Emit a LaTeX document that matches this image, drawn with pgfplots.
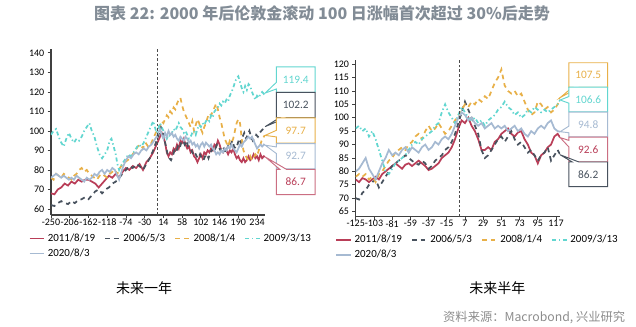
\documentclass[border=0pt]{standalone}
\usepackage{pgfplots}
\pgfplotsset{compat=1.18}
\usepackage{fontspec}
\setmainfont{Carlito}
\newfontfamily\cjk{Noto Sans CJK SC}
\usetikzlibrary{shapes.callouts}
\definecolor{cRed}{RGB}{185,62,88}
\definecolor{cDark}{RGB}{72,82,94}
\definecolor{cOrange}{RGB}{232,176,72}
\definecolor{cCyan}{RGB}{98,214,208}
\definecolor{cBlue}{RGB}{166,186,210}
\definecolor{cTitle}{RGB}{130,140,150}
\definecolor{cSrc}{RGB}{140,140,140}
\tikzset{
  box/.style={rectangle callout, fill=white, line width=0.7pt, inner sep=0pt,
    minimum width=29pt, callout pointer width=5pt, font=\fontsize{8.5}{9}\selectfont},
}
\pgfplotsset{
  base/.style={scale only axis, axis x line*=bottom, axis y line*=left,
    axis line style={black!75, line width=0.8pt, -},
    tick align=outside, tick style={black!75, line width=0.6pt}, major tick length=2.5pt,
    tick label style={font=\fontsize{7.5}{8}\selectfont},
    /pgf/number format/assume math mode=true,
    yticklabel style={xshift=1pt},
    xticklabel style={yshift=1pt, inner sep=1pt},
    clip mode=individual,
    legend columns=4, legend cell align=left,
    legend style={draw=none, fill=none, font=\fontsize{8.2}{9}\selectfont, anchor=north west,
      /tikz/every even column/.append style={column sep=5pt}, row sep=0pt, inner sep=0pt},
    legend image code/.code={\draw[##1] (0pt,0pt) -- (11pt,0pt);},
  },
  sRed/.style={cRed, line width=1.3pt},
  sDark/.style={cDark, line width=1.3pt, dash pattern=on 3.5pt off 3pt},
  sOrange/.style={cOrange, line width=1.3pt, dash pattern=on 3.5pt off 3pt},
  sCyan/.style={cCyan, line width=1.3pt, dash pattern=on 3pt off 2pt on 1pt off 2pt},
  sBlue/.style={cBlue, line width=1.3pt},
}
\begin{document}
\begin{tikzpicture}
\path[use as bounding box] (0,0) rectangle (477pt,245.25pt);
\node[font=\cjk\bfseries\fontsize{12}{14}\selectfont, text=cTitle] at (241.5pt,235.5pt) {图表 22: 2000 年后伦敦金滚动 100 日涨幅首次超过 30\%后走势};
\node[font=\cjk\fontsize{10.5}{12}\selectfont] at (108pt,29.25pt) {未来一年};
\node[font=\cjk\fontsize{10.5}{12}\selectfont] at (373pt,29.25pt) {未来半年};
\node[font=\cjk\fontsize{9.2}{10}\selectfont, text=cSrc, anchor=east, inner sep=0pt] at (469pt,7.5pt) {资料来源：Macrobond, 兴业研究};

% ---------------- left ----------------
\begin{axis}[base, at={(38.25pt,84pt)}, anchor=south west,
  width=160.6pt, height=124.5pt,
  xmin=-250, xmax=253, ymin=56.9, ymax=142,
  xtick={-250,-206,-162,-118,-74,-30,14,58,102,146,190,234},
  ytick={60,70,...,140},
  legend style={at={(-0.105,-0.095)}}]
\addplot[sRed] coordinates {(-250,68) (-242,67.5) (-234,70) (-226,71) (-218,73) (-210,72) (-202,74) (-194,73) (-186,75) (-178,74) (-170,75) (-162,75) (-154,74) (-146,73) (-138,71) (-130,73) (-122,75) (-114,77) (-106,76) (-98,78) (-90,76) (-82,79) (-74,81) (-66,80) (-58,82) (-50,81) (-42,83) (-34,80) (-26,84) (-18,86) (-10,89) (-2,93) (6,97) (10,99) (14,97) (18,94) (22,89) (26,87) (30,89) (34,88) (38,91) (42,90) (46,93) (50,91) (54,95) (58,94) (62,96) (66,93) (70,91) (74,92) (78,89) (82,90) (86,87) (90,86) (94,84) (98,86) (102,88) (106,86) (110,89) (114,88) (118,90) (122,89) (126,91) (130,90) (134,93) (138,92) (142,95) (146,93) (150,90) (154,89) (158,91) (162,90) (166,88) (170,90) (174,89) (178,91) (182,88) (186,86) (190,87) (194,85) (198,84) (202,86) (206,84) (210,85) (214,87) (218,85) (222,86) (226,88) (230,86) (234,87) (238,85) (242,88) (246,86) (250,87) (252,86.7)};
\addlegendentry{2011/8/19}
\addplot[sDark] coordinates {(-250,62) (-242,61.5) (-234,63) (-226,64) (-218,63) (-210,62.5) (-202,64) (-194,63) (-186,64.5) (-178,65) (-170,66) (-162,65) (-154,67) (-146,69) (-138,70) (-130,68) (-122,70) (-114,71) (-106,73) (-98,74) (-90,76) (-82,78) (-74,80) (-66,82) (-58,81) (-50,83) (-42,82) (-34,80) (-26,83) (-18,86) (-10,90) (-2,95) (4,99) (8,102) (12,100) (16,96) (20,92) (24,88) (28,86) (32,85) (36,87) (40,90) (44,89) (48,92) (52,91) (56,94) (60,95) (64,93) (68,95) (72,92) (76,91) (80,90) (84,88) (88,89) (92,87) (96,86) (100,88) (104,86) (108,85) (112,87) (116,88) (120,86) (124,89) (128,90) (132,92) (136,91) (140,93) (144,92) (148,90) (152,92) (156,91) (160,89) (164,91) (168,94) (172,93) (176,95) (180,92) (184,91) (188,93) (192,96) (196,94) (200,97) (204,99) (208,96) (212,98) (216,100) (220,97) (224,95) (228,96) (232,98) (236,97) (240,99) (244,100) (248,101) (252,102.2)};
\addlegendentry{2006/5/3}
\addplot[sOrange] coordinates {(-250,76) (-244,75) (-238,78) (-232,77) (-226,76) (-220,78) (-214,77) (-208,76) (-202,75) (-196,77) (-190,78) (-184,80) (-178,81) (-172,79) (-166,80) (-160,78) (-154,77) (-148,76) (-142,75) (-136,77) (-130,78) (-124,77) (-118,76) (-112,78) (-106,79) (-100,80) (-94,78) (-88,81) (-82,83) (-76,84) (-70,85) (-64,86) (-58,88) (-52,90) (-46,92) (-40,93) (-34,91) (-28,94) (-22,92) (-16,93) (-10,96) (-4,99) (2,101) (6,103) (10,105) (14,104) (18,106) (22,108) (26,107) (30,110) (34,109) (38,112) (42,111) (46,114) (50,116) (54,117) (58,113) (62,110) (66,108) (70,106) (74,104) (78,102) (82,105) (86,100) (90,103) (94,106) (98,104) (102,101) (106,99) (110,102) (114,104) (118,107) (122,109) (126,108) (130,110) (134,112) (138,114) (142,111) (146,107) (150,104) (154,100) (158,96) (162,94) (166,92) (170,95) (174,94) (178,96) (182,100) (186,104) (190,106) (194,104) (198,96) (202,90) (206,88) (210,86) (214,85) (218,87) (222,85) (226,86) (230,88) (234,87) (238,90) (242,93) (246,96) (250,97) (252,97.7)};
\addlegendentry{2008/1/4}
\addplot[sCyan] coordinates {(-250,98) (-244,100) (-238,101) (-232,97) (-226,94) (-220,92) (-214,96) (-208,99) (-202,96) (-196,94) (-190,96) (-184,95) (-178,97) (-172,100) (-166,102) (-160,104) (-154,100) (-148,97) (-142,92) (-136,88) (-130,86) (-124,88) (-118,90) (-112,95) (-108,96) (-104,93) (-98,88) (-94,83) (-90,80) (-86,82) (-80,84) (-74,86) (-68,88) (-62,87) (-56,89) (-50,91) (-44,93) (-38,92) (-32,94) (-26,97) (-20,100) (-14,103) (-10,105) (-6,102) (-2,99) (2,101) (6,104) (10,102) (14,100) (18,98) (22,96) (26,98) (30,97) (34,99) (38,101) (42,100) (46,102) (50,104) (54,102) (58,101) (62,99) (66,100) (70,98) (74,96) (78,97) (82,99) (86,100) (90,98) (94,101) (98,103) (102,102) (106,104) (110,103) (114,105) (118,106) (122,105) (126,108) (130,107) (134,110) (138,111) (142,112) (146,114) (150,113) (154,115) (158,114) (162,116) (166,115) (170,118) (174,120) (178,122) (182,125) (186,127) (190,128) (194,125) (198,122) (202,120) (206,123) (210,121) (214,124) (218,123) (222,120) (226,118) (230,116) (234,118) (238,117) (242,119) (246,120) (250,119) (252,119.4)};
\addlegendentry{2009/3/13}
\addplot[sBlue] coordinates {(-250,76) (-244,77) (-238,78) (-232,77) (-226,76) (-220,77) (-214,76) (-208,75) (-202,76) (-196,75) (-190,77) (-184,76) (-178,75) (-172,74) (-166,76) (-160,75) (-154,76) (-148,78) (-142,77) (-136,79) (-130,80) (-124,78) (-118,80) (-112,79) (-106,81) (-100,80) (-94,77) (-90,75) (-86,78) (-80,82) (-74,85) (-68,87) (-62,86) (-56,88) (-50,89) (-44,88) (-38,90) (-32,91) (-26,90) (-20,92) (-14,93) (-8,95) (-2,97) (2,99) (6,101) (10,98) (14,96) (18,99) (22,97) (26,100) (30,98) (34,99) (38,97) (42,98) (46,96) (50,95) (54,97) (58,96) (62,95) (66,97) (70,96) (74,94) (78,95) (82,93) (86,94) (90,92) (94,93) (98,91) (102,93) (106,94) (110,92) (114,94) (118,93) (122,92) (126,93) (130,91) (134,90) (138,88) (142,89) (146,88) (150,90) (154,89) (158,91) (162,90) (166,92) (170,91) (174,93) (178,91) (182,90) (186,89) (190,91) (194,93) (198,92) (202,94) (206,95) (210,96) (214,97) (218,96) (222,97) (226,95) (230,93) (234,91) (238,92) (242,93) (246,92) (250,93) (252,92.7)};
\addlegendentry{2020/8/3}
\addplot[black!70, line width=0.5pt, dash pattern=on 2pt off 1.5pt, forget plot] coordinates {(0,56.9) (0,142)};
\node[box, draw=cCyan, text=cCyan, minimum height=19pt, callout absolute pointer={(axis cs:253,119.4)}] at (axis cs:325,126.3) {119.4};
\node[box, draw=cDark, text=cDark, minimum height=19pt, callout absolute pointer={(axis cs:253,102.2)}] at (axis cs:325,113.3) {102.2};
\node[box, draw=cOrange, text=cOrange, minimum height=19pt, callout absolute pointer={(axis cs:253,97.7)}] at (axis cs:325,100.2) {97.7};
\node[box, draw=cBlue, text=cBlue, minimum height=19pt, callout absolute pointer={(axis cs:253,92.7)}] at (axis cs:325,87.0) {92.7};
\node[box, draw=cRed!75, text=cRed, minimum height=19pt, callout absolute pointer={(axis cs:253,86.7)}] at (axis cs:325,73.8) {86.7};
\end{axis}

% ---------------- right ----------------
\begin{axis}[base, at={(266.8pt,82.7pt)}, anchor=south west,
  width=153.3pt, height=117.5pt,
  xmin=-125, xmax=122, ymin=63.1, ymax=121.5,
  xtick={-125,-103,-81,-59,-37,-15,7,29,51,73,95,117},
  ytick={65,70,...,120},
  legend style={at={(-0.1,-0.098)}}]
\addplot[sRed] coordinates {(-125,77) (-121,76) (-117,77.5) (-113,77) (-109,76) (-105,77) (-101,78) (-97,77) (-93,79) (-89,80) (-85,81) (-81,82) (-77,83) (-73,82) (-69,81) (-65,82.5) (-61,83) (-57,82) (-53,83) (-49,84) (-45,83) (-41,82) (-37,80.5) (-33,81) (-29,82) (-25,83) (-21,85) (-17,86) (-13,87) (-9,89) (-5,92) (-1,96) (3,99) (7,98) (11,100) (15,97) (19,95) (23,92) (27,88) (31,88) (35,89) (39,88) (43,91) (47,92) (51,94) (55,95) (59,96) (63,94) (67,93) (71,94.5) (75,95) (79,92) (83,90) (87,87) (91,86) (95,83) (99,86) (103,87) (107,89) (111,90) (115,93) (119,94) (122,92.6)};
\addlegendentry{2011/8/19}
\addplot[sDark] coordinates {(-125,70) (-121,69.5) (-117,72) (-113,73) (-109,75) (-105,76) (-101,77) (-97,74) (-93,76) (-89,78) (-85,80) (-81,82) (-77,83) (-73,84) (-69,85) (-65,86) (-61,85) (-57,84) (-53,83) (-49,82.5) (-45,84) (-41,83) (-37,81) (-33,82) (-29,84) (-25,85) (-21,86) (-17,88) (-13,89) (-9,91) (-5,94) (-1,98) (3,102) (7,106) (11,103) (15,100) (19,97) (23,94) (27,88) (31,85) (35,86) (39,88) (43,90) (47,92) (51,93) (55,91) (59,93) (63,95) (67,92) (71,90) (75,91) (79,89) (83,87) (87,88) (91,86) (95,84) (99,86) (103,87) (107,89) (111,84) (115,86) (119,88) (122,86.2)};
\addlegendentry{2006/5/3}
\addplot[sOrange] coordinates {(-125,78) (-121,79) (-117,78) (-113,79) (-109,77) (-105,78) (-101,76) (-97,79) (-93,80) (-89,82) (-85,84) (-81,85) (-77,87) (-73,88) (-69,89) (-65,88) (-61,90) (-57,91) (-53,93) (-49,94) (-45,92) (-41,95) (-37,97) (-33,95) (-29,96) (-25,98) (-21,96) (-17,94) (-13,95) (-9,97) (-5,99) (-1,101) (3,103) (7,105) (11,104) (15,106) (19,105) (23,107) (27,106) (31,108) (35,107) (39,110) (43,113) (47,115) (51,118) (55,112) (59,110) (63,109) (67,110) (71,108) (75,109) (79,106) (83,103) (87,101) (91,102) (95,106) (99,105) (103,103) (107,104) (111,102) (115,103) (119,105) (122,107.5)};
\addlegendentry{2008/1/4}
\addplot[sCyan] coordinates {(-125,96) (-121,97) (-117,95) (-113,96) (-109,93) (-105,95) (-101,92) (-97,88) (-93,84) (-89,80) (-85,79) (-81,81) (-77,83) (-73,84) (-69,85) (-65,86) (-61,88) (-57,90) (-53,91) (-49,90) (-45,92) (-41,93) (-37,94) (-33,95) (-29,97) (-25,98) (-21,102) (-17,105) (-13,102) (-9,100) (-5,98) (-1,101) (3,104) (7,102) (11,100) (15,99) (19,100) (23,98) (27,99) (31,97) (35,99) (39,100) (43,101) (47,103) (51,104) (55,106) (59,104) (63,103) (67,101) (71,102) (75,100) (79,101) (83,103) (87,102) (91,104) (95,103) (99,102) (103,103) (107,102) (111,103) (115,104) (119,105) (122,106.6)};
\addlegendentry{2009/3/13}
\addplot[sBlue] coordinates {(-125,80) (-121,81) (-117,83) (-113,85) (-109,81) (-105,79) (-101,77) (-97,80) (-93,83) (-89,85) (-85,88) (-81,86) (-77,87) (-73,86) (-69,88) (-65,89) (-61,87) (-57,89) (-53,88) (-49,87) (-45,89) (-41,90) (-37,88) (-33,89) (-29,91) (-25,90) (-21,92) (-17,93) (-13,92) (-9,94) (-5,97) (-1,100) (3,102) (7,101) (11,99) (15,100) (19,98) (23,97) (27,98) (31,96) (35,97) (39,98) (43,96) (47,97) (51,96) (55,97) (59,95) (63,96) (67,97) (71,95) (75,96) (79,94) (83,93) (87,95) (91,94) (95,96) (99,97) (103,96) (107,98) (111,99) (115,96) (119,95) (122,94.8)};
\addlegendentry{2020/8/3}
\addplot[black!70, line width=0.5pt, dash pattern=on 2pt off 1.5pt, forget plot] coordinates {(0,63.1) (0,121.5)};
\node[box, draw=cOrange, text=cOrange, minimum height=18.5pt, callout absolute pointer={(axis cs:122,107.5)}] at (axis cs:156,115.9) {107.5};
\node[box, draw=cCyan, text=cCyan, minimum height=18.5pt, callout absolute pointer={(axis cs:122,106.6)}] at (axis cs:156,106.8) {106.6};
\node[box, draw=cBlue, text=cBlue, minimum height=18.5pt, callout absolute pointer={(axis cs:122,94.8)}] at (axis cs:156,97.5) {94.8};
\node[box, draw=cRed!75, text=cRed, minimum height=18.5pt, callout absolute pointer={(axis cs:122,92.6)}] at (axis cs:156,88.2) {92.6};
\node[box, draw=cDark, text=cDark, minimum height=18.5pt, callout absolute pointer={(axis cs:122,86.2)}] at (axis cs:156,78.9) {86.2};
\end{axis}
\end{tikzpicture}
\end{document}
